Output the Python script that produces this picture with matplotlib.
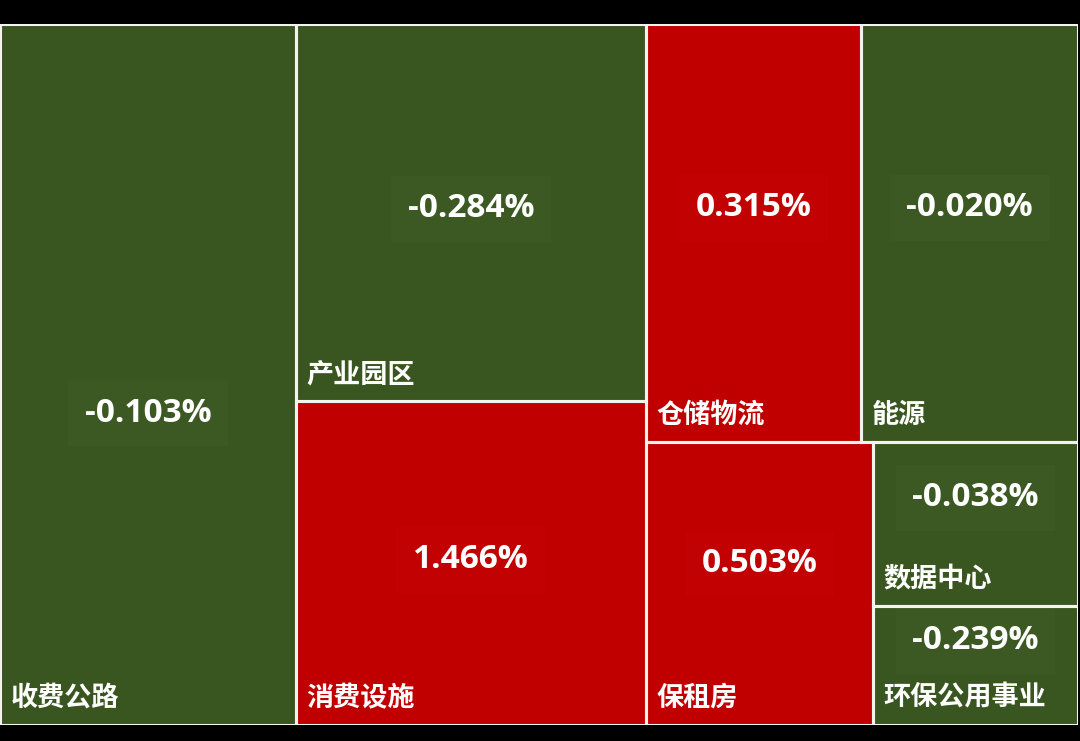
"""
REITs sector treemap: daily change by sector
"""

import matplotlib.pyplot as plt
from matplotlib.patches import Rectangle

plt.rcParams['font.family'] = ['Open Sans', 'Noto Sans CJK SC', 'DejaVu Sans']

sectors = ['收费公路', '产业园区', '消费设施', '仓储物流', '能源',
           '保租房', '数据中心', '环保公用事业']
weights = [207.5, 132.0, 113.4, 89.9, 90.7, 64.2, 33.6, 24.4]
changes = [-0.103, -0.284, 1.466, 0.315, -0.020, 0.503, -0.038, -0.239]

# nesting of the tiles (indices into sectors), split direction alternates
tree = [0, [1, 2], [[3, 4], [5, [6, 7]]]]

green = '#3a5620'
red = '#c00000'
green_box = '#3c5923'
red_box = '#c20202'

# value label height inside each tile, as fraction from the top
value_frac = [0.555, 0.49, 0.49, 0.44, 0.44, 0.43, 0.34, 0.29]


def total(node):
    if isinstance(node, list):
        return sum(total(n) for n in node)
    return weights[node]


def layout(node, x, y, w, h, horiz, out):
    if not isinstance(node, list):
        out[node] = (x, y, w, h)
        return
    s = total(node)
    pos = 0.0
    for child in node:
        f = total(child) / s
        if horiz:
            layout(child, x + pos * w, y, w * f, h, not horiz, out)
        else:
            layout(child, x, y + pos * h, w, h * f, not horiz, out)
        pos += f


rects = {}
layout(tree, 0, 0, 1, 1, True, rects)

fig = plt.figure(figsize=(10.8, 7.41), dpi=100, facecolor='black')
ax = fig.add_axes([0.0, 16 / 741, 1078 / 1080, 701 / 741])
ax.set_xlim(0, 1)
ax.set_ylim(1, 0)
ax.axis('off')

for i, name in enumerate(sectors):
    x, y, w, h = rects[i]
    up = changes[i] > 0
    ax.add_patch(Rectangle((x, y), w, h, facecolor=red if up else green,
                           edgecolor='none', zorder=1))
    # white tile border drawn above the label boxes
    ax.add_patch(Rectangle((x, y), w, h, facecolor='none',
                           edgecolor='#f4f4ee', linewidth=2.2, zorder=5))
    ax.annotate(f'{changes[i]:.3f}%', (x + w / 2, y + h * value_frac[i]),
                ha='center', va='center', color='white', fontsize=24,
                fontweight='bold', zorder=3,
                bbox=dict(boxstyle='square,pad=0.5',
                          facecolor=red_box if up else green_box,
                          edgecolor='none'))
    ax.annotate(name, (x, y + h), xytext=(7.5, 19.5),
                textcoords='offset points', ha='left', va='center',
                color='white', fontsize=19.5, fontweight='bold', zorder=4,
                family=['Noto Sans CJK SC', 'DejaVu Sans'])

fig.savefig('out.png', dpi=100, facecolor='black')
